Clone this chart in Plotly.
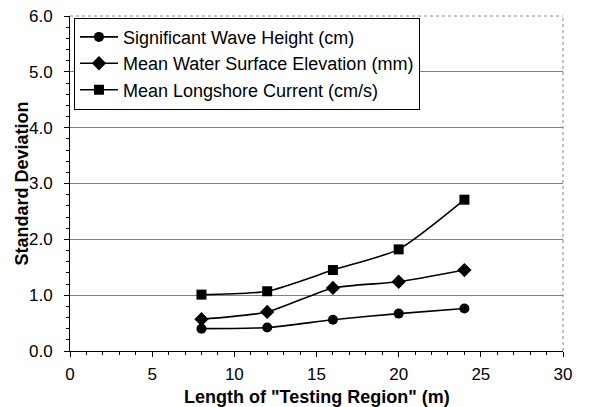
import plotly.graph_objects as go

x_len = [8, 12, 16, 20, 24]
wave_height = [0.40, 0.42, 0.56, 0.67, 0.76]
water_elev = [0.57, 0.70, 1.13, 1.24, 1.45]
longshore = [1.01, 1.07, 1.45, 1.82, 2.71]

names = ["Significant Wave Height (cm)",
         "Mean Water Surface Elevation (mm)",
         "Mean Longshore Current (cm/s)"]
symbols = ["circle", "diamond", "square"]
sizes = [10, 11, 10]

x_title = "<b>Length of \"Testing Region\" (m)</b>"
y_title = "<b>Standard Deviation</b>"

fig = go.Figure()
for ys, nm, sym, sz in zip([wave_height, water_elev, longshore], names, symbols, sizes):
    fig.add_trace(go.Scatter(
        x=x_len, y=ys, name=nm, mode="lines+markers",
        line=dict(color="black", width=1.6, shape="spline", smoothing=0.6),
        marker=dict(symbol=sym, size=sz, color="black"),
    ))

font = "Liberation Sans, Arial, sans-serif"
fig.update_layout(
    width=589, height=407,
    margin=dict(l=70, r=26, t=16, b=56),
    paper_bgcolor="white", plot_bgcolor="white",
    font=dict(family=font, size=17, color="black"),
    showlegend=True,
    legend=dict(x=0.008, y=0.995, xanchor="left", yanchor="top",
                bgcolor="white", bordercolor="black", borderwidth=1,
                font=dict(size=18), itemwidth=38, tracegroupgap=0,
                traceorder="normal"),
    xaxis=dict(range=[0, 30], dtick=5, tickmode="linear", tick0=0,
               showgrid=False, zeroline=False, automargin=False,
               showline=True, linecolor="black", linewidth=1, mirror=False,
               ticks="outside", ticklen=5, tickcolor="black",
               ticklabelstandoff=3,
               minor=dict(dtick=1, ticks="outside", ticklen=3, tickcolor="black", showgrid=False),
               tickfont=dict(size=17)),
    yaxis=dict(range=[0, 6], dtick=1, tickmode="linear", tick0=0, tickformat=".1f",
               showgrid=True, gridcolor="#808080", gridwidth=1, zeroline=False, automargin=False,
               showline=True, linecolor="black", linewidth=1,
               ticks="outside", ticklen=5, tickcolor="black",
               ticklabelstandoff=8,
               minor=dict(dtick=0.2, ticks="outside", ticklen=3, tickcolor="black", showgrid=False),
               tickfont=dict(size=17)),
    annotations=[
        dict(text=x_title, xref="paper", yref="paper", x=0.5, y=-0.174,
             xanchor="center", yanchor="bottom", showarrow=False,
             font=dict(size=18, family=font, color="black")),
        dict(text=y_title, xref="paper", yref="paper", x=-0.0974, y=0.5,
             xanchor="center", yanchor="middle", textangle=-90, showarrow=False,
             font=dict(size=18, family=font, color="black")),
    ],
    shapes=[
        dict(type="line", xref="paper", yref="paper", x0=0, x1=1, y0=1, y1=1,
             line=dict(color="#888888", width=1, dash="dot")),
        dict(type="line", xref="paper", yref="paper", x0=1, x1=1, y0=0, y1=1,
             line=dict(color="#888888", width=1, dash="dot")),
    ],
)

fig.write_html("out.html")
